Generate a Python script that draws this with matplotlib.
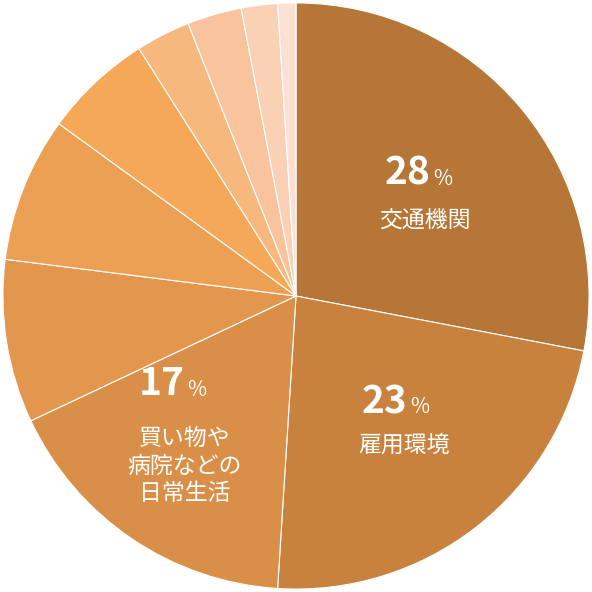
import matplotlib
matplotlib.use("Agg")
import matplotlib.pyplot as plt
import numpy as np

values = [28, 23, 17, 9, 8, 6, 3, 3, 2, 1]
colors = ["#B57638", "#C8823D", "#D98F48", "#E3964E", "#ECA053", "#F5A857",
          "#F7B87E", "#F9C49D", "#FBD1B6", "#FDDFD3"]
labels = [("28", "交通機関"), ("23", "雇用環境"), ("17", "買い物や\n病院などの\n日常生活")]

plt.rcParams['font.family'] = ['Noto Sans CJK JP', 'DejaVu Sans']
fig = plt.figure(figsize=(5.92, 5.92), dpi=100)
ax = fig.add_axes([0, 0, 1, 1])
ax.pie(values, colors=colors, startangle=90, counterclock=False,
       wedgeprops=dict(edgecolor="white", linewidth=0.8))
ax.set_xlim(-1.01, 1.01); ax.set_ylim(-1.01, 1.01)
ax.set_aspect('equal')

pos = [((0.46, 0.42), (0.44, 0.26)), ((0.38, -0.36), (0.37, -0.51)), ((-0.38, -0.30), (-0.38, -0.58))]
for (num, txt), ((nx, ny), (tx, ty)) in zip(labels, pos):
    ax.text(nx, ny, num, color="white", fontsize=28, ha="right", va="center", fontweight="bold")
    ax.text(nx + 0.01, ny - 0.02, "%", color="white", fontsize=15, ha="left", va="center")
    ax.text(tx, ty, txt, color="white", fontsize=16.5, ha="center", va="center", linespacing=1.25)
fig.savefig("out.png", dpi=100)
